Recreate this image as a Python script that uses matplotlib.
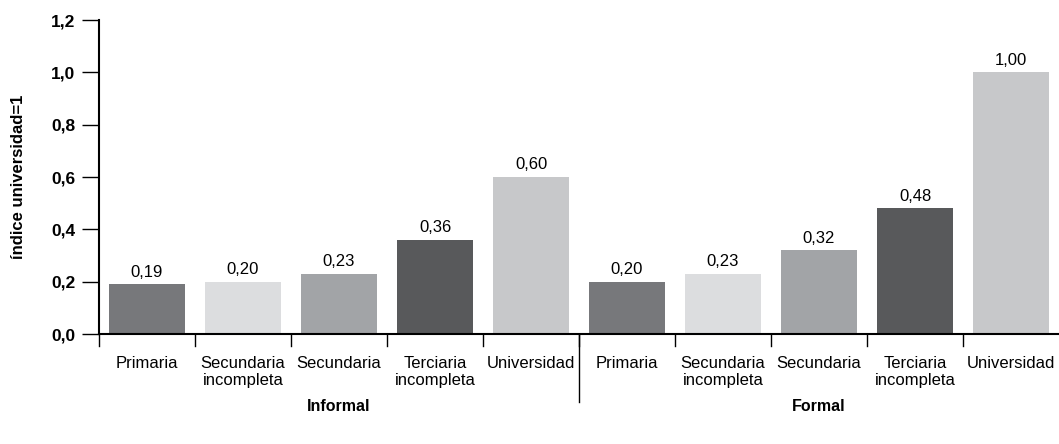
import matplotlib
matplotlib.use("Agg")
import matplotlib.pyplot as plt
import numpy as np

plt.rcParams['font.family'] = ['Liberation Sans Narrow', 'Liberation Sans', 'DejaVu Sans']

groups = ["Informal", "Formal"]
categories = ["Primaria", "Secundaria\nincompleta", "Secundaria",
              "Terciaria\nincompleta", "Universidad"]
informal = [0.19, 0.20, 0.23, 0.36, 0.60]
formal = [0.20, 0.23, 0.32, 0.48, 1.00]
value_labels = ["0,19", "0,20", "0,23", "0,36", "0,60",
                "0,20", "0,23", "0,32", "0,48", "1,00"]
yticks = [0.0, 0.2, 0.4, 0.6, 0.8, 1.0, 1.2]
ytick_labels = ["0,0", "0,2", "0,4", "0,6", "0,8", "1,0", "1,2"]
colors = ["#77787b", "#dcdddf", "#a2a4a7", "#58595b", "#c7c8ca"]

values = informal + formal
x = np.arange(len(values))

fig = plt.figure(figsize=(10.59, 4.44), dpi=100)
ax = fig.add_axes([0.0935, 0.2477, 0.9065, 0.7072])

ax.bar(x, values, width=0.79, color=colors * 2, zorder=2)
for xi, v, lab in zip(x, values, value_labels):
    ax.text(xi, v + 0.018, lab, ha="center", va="bottom", fontsize=12)

ax.set_xlim(-0.5, len(values) - 0.5)
ax.set_ylim(0, 1.2)
ax.set_yticks(yticks)
ax.set_yticklabels(ytick_labels, fontsize=12.5, fontweight="bold")
ax.tick_params(axis="y", length=12, width=1, pad=5)
ax.set_ylabel("índice universidad=1", fontsize=12, fontweight="bold", labelpad=18)

ax.set_xticks(x)
ax.set_xticklabels(categories * 2, fontsize=12, linespacing=1.15)
ax.tick_params(axis="x", length=0, pad=16)
# marcas entre categorias
for b in np.arange(-0.5, len(values) - 0.5, 1.0):
    ax.plot([b, b], [0, -0.045], color="black", lw=1, clip_on=False)
ax.plot([4.5, 4.5], [0, -0.26], color="black", lw=1, clip_on=False)

for gi, g in enumerate(groups):
    ax.text(gi * 5 + 2, -0.25, g, ha="center", va="top", fontsize=11.5, fontweight="bold")

ax.spines["top"].set_visible(False)
ax.spines["right"].set_visible(False)
ax.spines["left"].set_linewidth(1.5)
ax.spines["bottom"].set_linewidth(1.5)

fig.savefig("out.png", dpi=100)
